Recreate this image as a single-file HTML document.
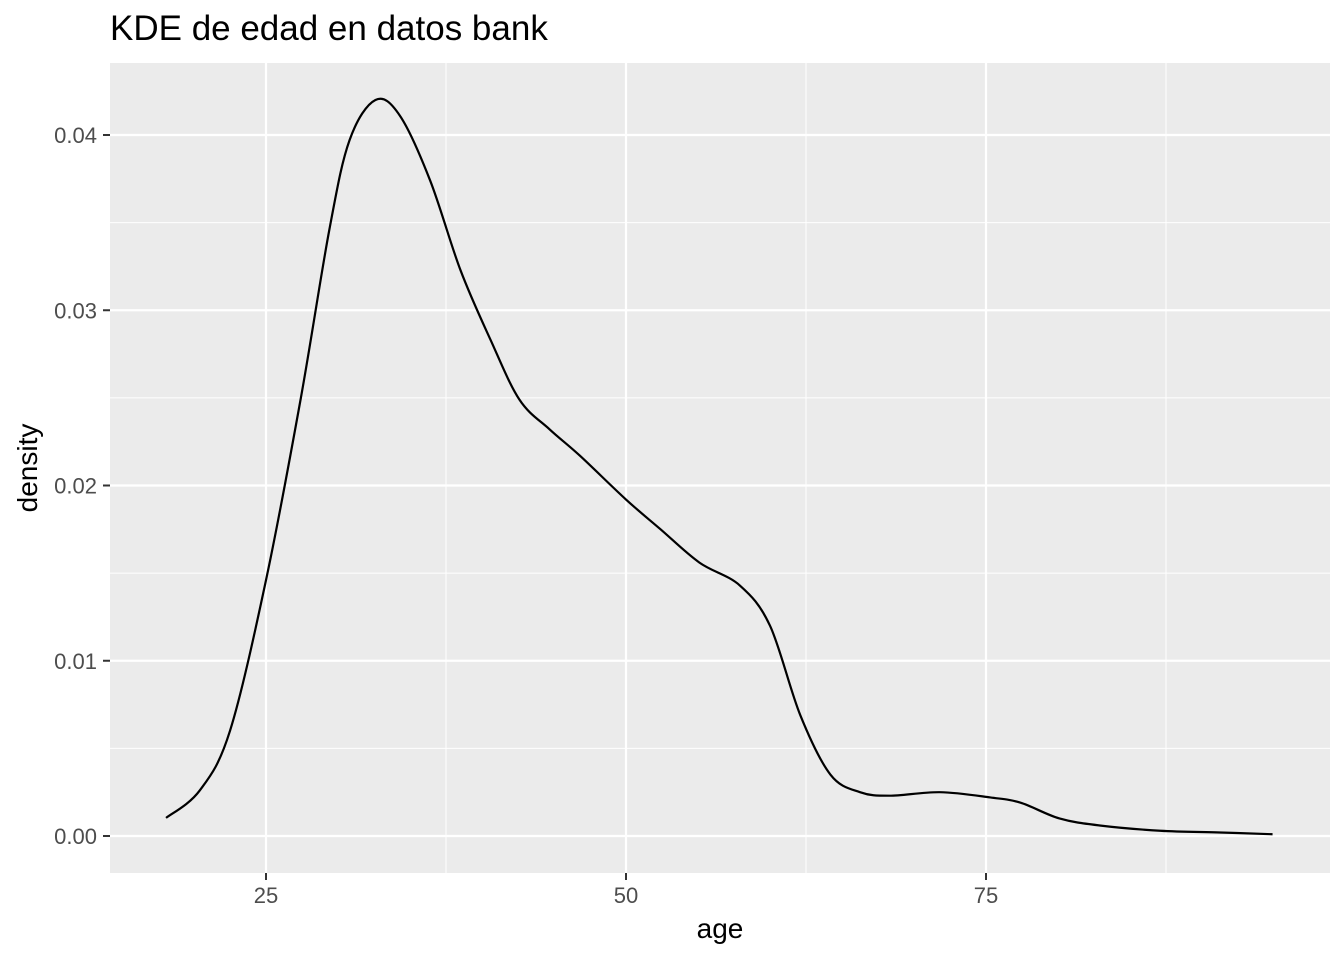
<!DOCTYPE html>
<html><head><meta charset="utf-8"><style>
body{margin:0;background:#fff}
svg text{font-family:"Liberation Sans",sans-serif}
</style></head><body>
<svg id="chart" width="1344" height="960" xmlns="http://www.w3.org/2000/svg">
<text x="110" y="40" font-size="35" fill="#000">KDE de edad en datos bank</text>
<rect x="110" y="63" width="1220" height="810" fill="#ebebeb"/>
<g id="grid"></g>
<path id="curve" fill="none" stroke="#000" stroke-width="2.2"/>
<g id="axes"></g>
<text x="720" y="938" font-size="28" text-anchor="middle">age</text>
<text transform="translate(37,468) rotate(-90)" font-size="28" text-anchor="middle">density</text>
</svg>
<script>
const ages=[18.06,20.4,22.5,25,27.4,29.4,30.8,32.6,34.3,36.4,38.5,40.6,42.6,44.7,46.8,50,52.4,55.1,57.9,60,62.1,64.2,66.25,68.3,71.8,75.3,77.4,80.1,82.9,87.1,91.25,94.9];
const density=[0.00103,0.0026,0.006,0.0146,0.0249,0.0346,0.0397,0.042,0.0411,0.0374,0.0323,0.0283,0.0249,0.0232,0.0217,0.0192,0.0175,0.0156,0.0143,0.012,0.0069,0.0035,0.0025,0.0023,0.0025,0.0022,0.0019,0.001,0.0006,0.0003,0.0002,0.0001];
const xTicks=[25,50,75];
const xMinor=[37.5,62.5,87.5];
const yTicks=[0,0.01,0.02,0.03,0.04];
const yLabels=["0.00","0.01","0.02","0.03","0.04"];
const yMinor=[0.005,0.015,0.025,0.035];
const NS="http://www.w3.org/2000/svg";
const X=v=>266+(v-25)*14.4;
const Y=v=>836-v*17525;
function mk(tag,attrs,parent){const e=document.createElementNS(NS,tag);for(const k in attrs)e.setAttribute(k,attrs[k]);parent.appendChild(e);return e;}
const grid=document.getElementById('grid'),axes=document.getElementById('axes');
xMinor.forEach(v=>{const l=mk('line',{x1:X(v),x2:X(v),y1:63,y2:873,stroke:'#fff','stroke-width':1},grid);

});
yMinor.forEach(v=>{const l=mk('line',{x1:110,x2:1330,y1:Y(v),y2:Y(v),stroke:'#fff','stroke-width':1},grid);

});
xTicks.forEach(v=>{const l=mk('line',{x1:X(v),x2:X(v),y1:63,y2:873,stroke:'#fff','stroke-width':2.2},grid);


const t=mk('line',{x1:X(v),x2:X(v),y1:873,y2:880,stroke:'#333','stroke-width':2},axes);


const tx=mk('text',{x:X(v),y:903,'font-size':22,fill:'#4d4d4d','text-anchor':'middle'},axes);tx.textContent=v;

});
yTicks.forEach((v,i)=>{const l=mk('line',{x1:110,x2:1330,y1:Y(v),y2:Y(v),stroke:'#fff','stroke-width':2.2},grid);


const t=mk('line',{x1:103,x2:110,y1:Y(v),y2:Y(v),stroke:'#333','stroke-width':2},axes);


const tx=mk('text',{x:97,y:Y(v)+8,'font-size':22,fill:'#4d4d4d','text-anchor':'end'},axes);tx.textContent=yLabels[i];

});
const P=ages.map((a,i)=>[X(a),Y(density[i])]);
let d='M'+P[0][0]+','+P[0][1];
for(let i=0;i<P.length-1;i++){const p0=P[Math.max(0,i-1)],p1=P[i],p2=P[i+1],p3=P[Math.min(P.length-1,i+2)];
const c1=[p1[0]+(p2[0]-p0[0])/6,p1[1]+(p2[1]-p0[1])/6],c2=[p2[0]-(p3[0]-p1[0])/6,p2[1]-(p3[1]-p1[1])/6];
d+=` C${c1[0]},${c1[1]} ${c2[0]},${c2[1]} ${p2[0]},${p2[1]}`;}
document.getElementById('curve').setAttribute('d',d);
</script>
</body></html>
